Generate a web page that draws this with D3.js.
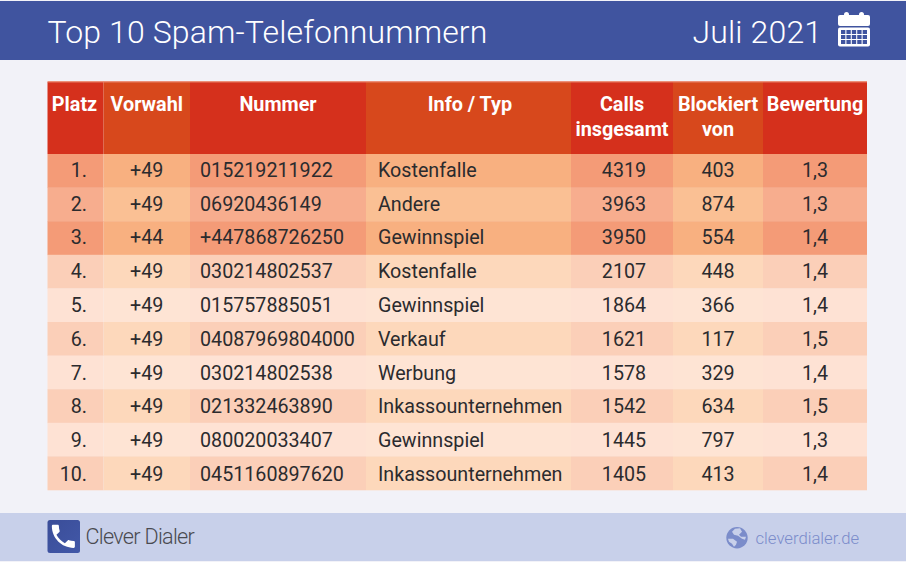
<!DOCTYPE html>
<html><head><meta charset="utf-8">
<script src="https://cdn.jsdelivr.net/npm/d3@7"></script>
<style>html,body{margin:0;padding:0;background:#f2f2f8}svg{display:block}text{font-family:Roboto,sans-serif}</style>
</head><body><svg id="c" width="906" height="562"></svg>
<script>
const title = "Top 10 Spam-Telefonnummern";
const period = "Juli 2021";
const brand = "Clever Dialer";
const site = "cleverdialer.de";
const columns = ["Platz","Vorwahl","Nummer","Info / Typ","Calls insgesamt","Blockiert von","Bewertung"];
const platz = ["1.","2.","3.","4.","5.","6.","7.","8.","9.","10."];
const vorwahl = ["+49","+49","+44","+49","+49","+49","+49","+49","+49","+49"];
const nummer = ["015219211922","06920436149","+447868726250","030214802537","015757885051","04087969804000","030214802538","021332463890","080020033407","0451160897620"];
const typ = ["Kostenfalle","Andere","Gewinnspiel","Kostenfalle","Gewinnspiel","Verkauf","Werbung","Inkassounternehmen","Gewinnspiel","Inkassounternehmen"];
const calls = [4319,3963,3950,2107,1864,1621,1578,1542,1445,1405];
const blockiert = [403,874,554,448,366,117,329,634,797,413];
const bewertung = ["1,3","1,3","1,4","1,4","1,4","1,5","1,4","1,5","1,3","1,4"];
const tier = [0,1,0,2,3,2,3,2,3,2];

const svg = d3.select("#c");
const W=906,H=562;
const colEdges=[47.5,103.5,190,366,571,673,763,867];
const x0=d3.scaleOrdinal(columns,colEdges.slice(0,7));
const x1=d3.scaleOrdinal(columns,colEdges.slice(1));
const y=d3.scaleBand().domain(d3.range(10)).range([154,490]);
const yText=d3.scalePoint().domain(d3.range(10)).range([176.8,481]);
const headTop=82;
const headNudge={"Platz":-1,"Info / Typ":1.5};
const palette={head:["#d5301c","#d7481c"],
 0:["#f49b77","#f8b080"],1:["#f7ad8e","#fac094"],2:["#fbcfb8","#fdd8bb"],3:["#fee2d4","#fee4d4"]};
const shade=(i)=>i%2; // alternating columns

svg.append("rect").attr("width",W).attr("height",H).attr("fill","#f2f2f8");
svg.append("rect").attr("x",0).attr("y",1).attr("width",W).attr("height",59).attr("fill","#40549f");
svg.append("rect").attr("x",0).attr("y",513).attr("width",W).attr("height",48).attr("fill","#c8d0ea");

svg.append("text").attr("x",47.5).attr("y",43).attr("font-size",32).attr("fill","#fff").attr("font-weight",300).attr("letter-spacing",0.13).text(title);
svg.append("text").attr("x",692.5).attr("y",43).attr("font-size",32).attr("fill","#fff").attr("font-weight",300).attr("letter-spacing",0.15).text(period);

// calendar icon
const cal=svg.append("g").attr("transform","translate(838,12)");
cal.append("rect").attr("x",0).attr("y",3).attr("width",32).attr("height",11).attr("rx",2).attr("fill","#fff");
cal.append("rect").attr("x",6).attr("y",0).attr("width",5).attr("height",7).attr("rx",2.5).attr("fill","#fff");
cal.append("rect").attr("x",21).attr("y",0).attr("width",5).attr("height",7).attr("rx",2.5).attr("fill","#fff");
cal.append("rect").attr("x",0).attr("y",15.5).attr("width",32).attr("height",19).attr("rx",2).attr("fill","#fff");
const gx=d3.scaleBand().domain(d3.range(5)).range([3,29]).paddingInner(0.2);
const gy=d3.scaleBand().domain(d3.range(3)).range([18,32]).paddingInner(0.2);
d3.range(5).forEach(i=>d3.range(3).forEach(j=>cal.append("rect").attr("x",gx(i)).attr("y",gy(j)).attr("width",gx.bandwidth()).attr("height",gy.bandwidth()).attr("fill","#40549f")));

// header cells
columns.forEach((c,i)=>{
 svg.append("rect").attr("x",x0(c)).attr("y",headTop).attr("width",x1(c)-x0(c)).attr("height",y(0)-headTop).attr("fill",palette.head[shade(i)]);
});
svg.append("rect").attr("x",47.5).attr("y",81).attr("width",819.5).attr("height",1.4).attr("fill","#ec8f78");
const headLines={"Calls insgesamt":["Calls","insgesamt"],"Blockiert von":["Blockiert","von"]};
columns.forEach(c=>{
 const cx=(x0(c)+x1(c))/2+(headNudge[c]||0);
 (headLines[c]||[c]).forEach((l,k)=>{
  svg.append("text").attr("x",cx).attr("y",110.5+k*25).attr("text-anchor","middle").attr("font-size",19.8).attr("font-weight",700).attr("fill","#fff").text(l);
 });
});

// body
const rowVals=i=>[platz[i],vorwahl[i],nummer[i],typ[i],calls[i],blockiert[i],bewertung[i]];
d3.range(10).forEach(i=>{
 const vals=rowVals(i);
 columns.forEach((c,j)=>{
  svg.append("rect").attr("x",x0(c)).attr("y",y(i)).attr("width",x1(c)-x0(c)).attr("height",y.bandwidth()+0.3).attr("fill",palette[tier[i]][shade(j)]);
  const left=j===2||j===3;
  const offs=j===4?2:(j===5?0:0);
  svg.append("text")
    .attr("x",j===0?87:left?x0(c)+(j===2?10:12):(x0(c)+x1(c))/2+offs)
    .attr("y",yText(i))
    .attr("text-anchor",j===0?"end":left?"start":"middle")
    .attr("font-size",19.7).attr("fill","#2b2b2e").text(vals[j]);
 });
});

// footer: logo
const logoDefs=svg.append("defs").append("linearGradient").attr("id","lg").attr("x1",0).attr("y1",0).attr("x2",1).attr("y2",1);
logoDefs.append("stop").attr("offset",0).attr("stop-color","#3a4d98");
logoDefs.append("stop").attr("offset",1).attr("stop-color","#4258a8");
const logo=svg.append("g").attr("transform","translate(47.5,520)");
logo.append("rect").attr("width",32.5).attr("height",33).attr("rx",2.5).attr("fill","url(#lg)");
logo.append("path").attr("transform","translate(0.5,1) scale(1.28)")
 .attr("d","M6.6 10.8c1.4 2.8 3.8 5.1 6.6 6.6l2.2-2.2c.3-.3.7-.4 1-.2 1.1.4 2.3.6 3.6.6.6 0 1 .4 1 1V20c0 .6-.4 1-1 1C10.6 21 3 13.4 3 4c0-.6.4-1 1-1h3.5c.6 0 1 .4 1 1 0 1.3.2 2.5.6 3.6.1.3 0 .7-.2 1z")
 .attr("fill","#fff");
svg.append("text").attr("x",85.5).attr("y",544).attr("font-size",21.6).attr("font-weight",300).attr("fill","#4a4a50").attr("letter-spacing",-0.7).text(brand);

// footer: globe + site
const globe=svg.append("g").attr("transform","translate(737,537.7)");
globe.append("circle").attr("r",10.7).attr("fill","#7b8cca");
globe.append("path").attr("fill","#c8d0ea").attr("d","M-2,-9 L3,-9.5 L5,-6 L2,-3 L4,-1 L9,-1 L8,2 L5,1 L1,-2 L-3,-3 L-5,-6Z M-9,1 L-4,1 L0,4 L-1,7 L-3,9 L-5,6 L-8,4Z");
svg.append("text").attr("x",755.5).attr("y",543.5).attr("font-size",16.7).attr("font-weight",300).attr("fill","#7b8cca").text(site);
</script></body></html>
